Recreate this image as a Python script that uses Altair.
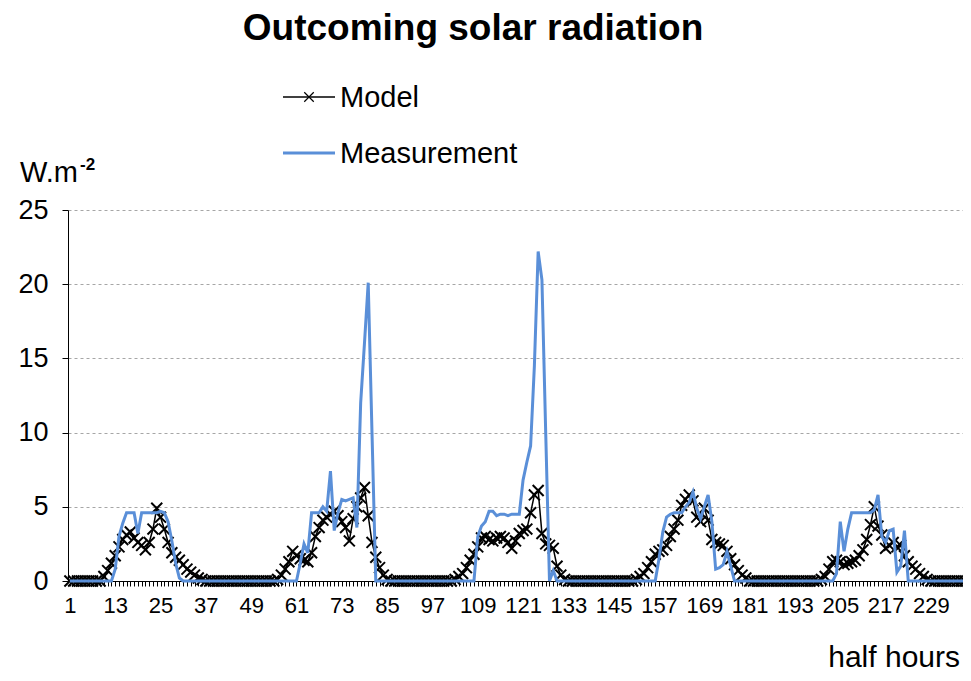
import altair as alt
import pandas as pd

FONT = "Liberation Sans"

# half-hour index 1..238
half_hours = list(range(1, 239))

model = [
    0, 0, 0, 0, 0, 0, 0, 0, 0,                          # 1-9
    0.3, 0.7, 1.2, 1.7, 2.3, 2.8, 3.1, 3.3, 2.9, 2.6,   # 10-19
    2.4, 2.1, 2.6, 3.5, 4.9, 4.3, 3.5, 2.6, 1.9, 1.6,   # 20-29
    1.4, 1.1, 0.8, 0.6, 0.4, 0.2, 0.1,                  # 30-36
    0, 0, 0, 0, 0, 0, 0, 0, 0, 0, 0, 0, 0, 0, 0, 0, 0, 0, 0,  # 37-55
    0.1, 0.4, 0.8, 1.3, 2.0, 1.7, 1.5, 1.4, 1.3, 1.9,   # 56-65
    3.0, 3.6, 4.1, 4.3, 4.5, 4.7, 4.4, 4.0, 3.6, 2.7,   # 66-75
    4.2, 5.0, 5.6, 6.3, 4.4, 2.6, 1.6, 0.9, 0.4, 0.1,   # 76-85
    0, 0, 0, 0, 0, 0, 0, 0, 0, 0, 0, 0, 0, 0, 0, 0, 0,  # 86-102
    0.1, 0.3, 0.5, 0.9, 1.4, 1.8, 2.3, 2.9, 3.0, 2.8,   # 103-112
    2.7, 2.9, 3.0, 2.9, 2.6, 2.2, 2.7, 3.2, 3.4, 3.5,   # 113-122
    4.6, 5.8, 6.1, 3.2, 2.5, 2.4, 2.2, 1.0, 0.4, 0.1,   # 123-132
    0, 0, 0, 0, 0, 0, 0, 0, 0, 0, 0, 0, 0, 0, 0, 0, 0, 0,  # 133-150
    0.1, 0.3, 0.5, 0.9, 1.3, 1.8, 2.0, 2.1, 2.4, 3.0,   # 151-160
    3.5, 4.1, 5.1, 5.5, 5.8, 5.4, 4.3, 4.0, 4.9, 4.1,   # 161-170
    2.8, 2.6, 2.5, 2.4, 2.0, 1.5, 1.1, 0.7, 0.4, 0.2,   # 171-180
    0, 0, 0, 0, 0, 0, 0, 0, 0, 0, 0, 0, 0, 0, 0, 0, 0, 0, 0,  # 181-199
    0.1, 0.3, 0.8, 1.3, 1.4, 1.3, 1.1, 1.2, 1.3, 1.4,   # 200-209
    1.7, 2.1, 2.8, 3.8, 5.0, 3.7, 3.1, 2.2, 2.4, 2.6,   # 210-219
    2.3, 2.4, 1.7, 1.3, 1.0, 0.8, 0.5, 0.3, 0.1,        # 220-228
    0, 0, 0, 0, 0, 0, 0, 0, 0, 0,                       # 229-238
]

measurement = [
    0, 0, 0, 0, 0, 0, 0, 0, 0, 0, 0, 0,                 # 1-12
    0.8, 3.0, 3.9, 4.6, 4.6, 4.6, 3.2, 4.6, 4.6, 4.6,   # 13-22
    4.6, 4.6, 4.7, 4.6, 4.0, 2.7, 1.2, 0.2,             # 23-30
    0, 0, 0, 0, 0, 0, 0, 0, 0, 0, 0, 0, 0, 0, 0, 0,     # 31-46
    0, 0, 0, 0, 0, 0, 0, 0, 0, 0, 0, 0, 0, 0, 0,        # 47-61
    1.2, 2.5, 1.9, 4.6, 4.6, 4.6, 5.0, 4.7, 7.4, 3.4,   # 62-71
    4.6, 5.5, 5.4, 5.5, 5.6, 3.6, 12.0, 16.0, 20.1, 10.0,  # 72-81
    0, 0, 0, 0, 0, 0, 0, 0, 0, 0, 0, 0, 0, 0,           # 82-95
    0, 0, 0, 0, 0, 0, 0, 0, 0, 0, 0, 0, 0,              # 96-108
    3.0, 3.7, 4.0, 4.7, 4.7, 4.4, 4.5, 4.5, 4.4, 4.5,   # 109-118
    4.5, 4.5, 6.8, 8.0, 9.1, 14.5, 22.2, 20.3, 10.0, 0, # 119-128
    0.7,                                                # 129
    0, 0, 0, 0, 0, 0, 0, 0, 0, 0, 0, 0, 0, 0,           # 130-143
    0, 0, 0, 0, 0, 0, 0, 0, 0, 0, 0, 0, 0,              # 144-156
    1.5, 3.3, 4.3, 4.5, 4.6, 4.6, 4.6, 5.0, 5.3, 6.0,   # 157-166
    4.9, 4.2, 5.0, 5.8, 4.0, 0.8, 0.9, 1.1, 2.0, 1.0,   # 167-176
    0, 0, 0, 0, 0, 0, 0, 0, 0, 0, 0, 0, 0, 0,           # 177-190
    0, 0, 0, 0, 0, 0, 0, 0, 0, 0, 0, 0, 0,              # 191-203
    0.5, 4.0, 2.0, 3.5, 4.6, 4.6, 4.6, 4.6, 4.6, 4.6,   # 204-213
    4.8, 5.8, 3.0, 2.6, 3.4, 3.5, 0.6, 1.0, 3.4,        # 214-222
    0, 0, 0, 0, 0, 0, 0, 0, 0, 0, 0, 0, 0, 0, 0, 0,     # 223-238
]

x_tick_values = half_hours
y_tick_values = [0, 5, 10, 15, 20, 25]
series_names = ["Model", "Measurement"]
series_colors = ["#000000", "#5a8fd8"]

assert len(model) == len(half_hours) == len(measurement)

df = pd.DataFrame({"hh": half_hours, "model": model, "meas": measurement})

W, H = 895, 371
X_CROSS = "M-1,-1L1,1M-1,1L1,-1"

x_enc = alt.X(
    "hh:Q",
    scale=alt.Scale(domain=[0.5, 237.5], nice=False, zero=False),
    axis=alt.Axis(
        values=x_tick_values,
        labelExpr="(datum.value - 1) % 12 == 0 ? datum.label : ''",
        format="d",
        tickSize=5, tickColor="black", tickWidth=1,
        domainColor="black", domainWidth=1,
        labelFont=FONT, labelFontSize=22, labelColor="black",
        labelPadding=9, labelOverlap=False, labelFlush=False,
        grid=False, title=None,
    ),
)


def y_enc(field):
    return alt.Y(
        f"{field}:Q",
        scale=alt.Scale(domain=[0, 25], nice=False),
        axis=alt.Axis(
            values=y_tick_values,
            grid=True, gridDash=[3, 3], gridColor="#a6a6a6", gridWidth=1,
            tickSize=6, tickColor="black",
            domainColor="black", domainWidth=1,
            labelFont=FONT, labelFontSize=27, labelColor="black",
            labelPadding=14, title=None,
        ),
    )


base = alt.Chart(df)

model_line = base.mark_line(color=series_colors[0], strokeWidth=1.5).encode(
    x=x_enc, y=y_enc("model")
)
model_pts = base.mark_point(
    shape=X_CROSS, filled=False, color=series_colors[0], size=120, strokeWidth=2, opacity=1
).encode(x=x_enc, y=y_enc("model"))
meas_line = base.mark_line(color=series_colors[1], strokeWidth=3).encode(
    x=x_enc, y=y_enc("meas")
)

one = alt.Chart(pd.DataFrame({"k": [0]}))

title = one.mark_text(
    text="Outcoming solar radiation", font=FONT, fontSize=37, fontWeight="bold",
    align="center", baseline="middle", color="black",
).encode(x=alt.value(405), y=alt.value(-181))

leg_model_rule = one.mark_rule(color=series_colors[0], strokeWidth=1.5).encode(
    x=alt.value(215), x2=alt.value(267), y=alt.value(-113)
)
leg_model_pt = one.mark_point(
    shape=X_CROSS, filled=False, color=series_colors[0], size=90, strokeWidth=1.2, opacity=1
).encode(x=alt.value(241), y=alt.value(-113))
leg_model_txt = one.mark_text(
    text=series_names[0], font=FONT, fontSize=29, align="left", baseline="middle", color="black"
).encode(x=alt.value(272), y=alt.value(-112))
leg_meas_rule = one.mark_rule(color=series_colors[1], strokeWidth=3).encode(
    x=alt.value(215), x2=alt.value(267), y=alt.value(-57)
)
leg_meas_txt = one.mark_text(
    text=series_names[1], font=FONT, fontSize=29, align="left", baseline="middle", color="black"
).encode(x=alt.value(272), y=alt.value(-56))

unit_txt = one.mark_text(
    text="W.m", font=FONT, fontSize=29, align="left", baseline="alphabetic", color="black"
).encode(x=alt.value(-48), y=alt.value(-28))
unit_sup = one.mark_text(
    text="-2", font=FONT, fontSize=17, fontWeight="bold", align="left", baseline="alphabetic", color="black"
).encode(x=alt.value(12), y=alt.value(-40))

xlab = one.mark_text(
    text="half hours", font=FONT, fontSize=30, align="right", baseline="middle", color="black"
).encode(x=alt.value(892), y=alt.value(448))

chart = alt.layer(
    model_line, model_pts, meas_line,
    title, leg_model_rule, leg_model_pt, leg_model_txt, leg_meas_rule, leg_meas_txt,
    unit_txt, unit_sup, xlab,
).properties(
    width=W, height=H,
    autosize=alt.AutoSizeParams(type="none"),
    padding={"left": 60, "top": 202, "right": 0, "bottom": 92},
    background="white",
).configure_view(stroke=None)

chart.save("out.html", embed_options={"renderer": "svg", "actions": False})
